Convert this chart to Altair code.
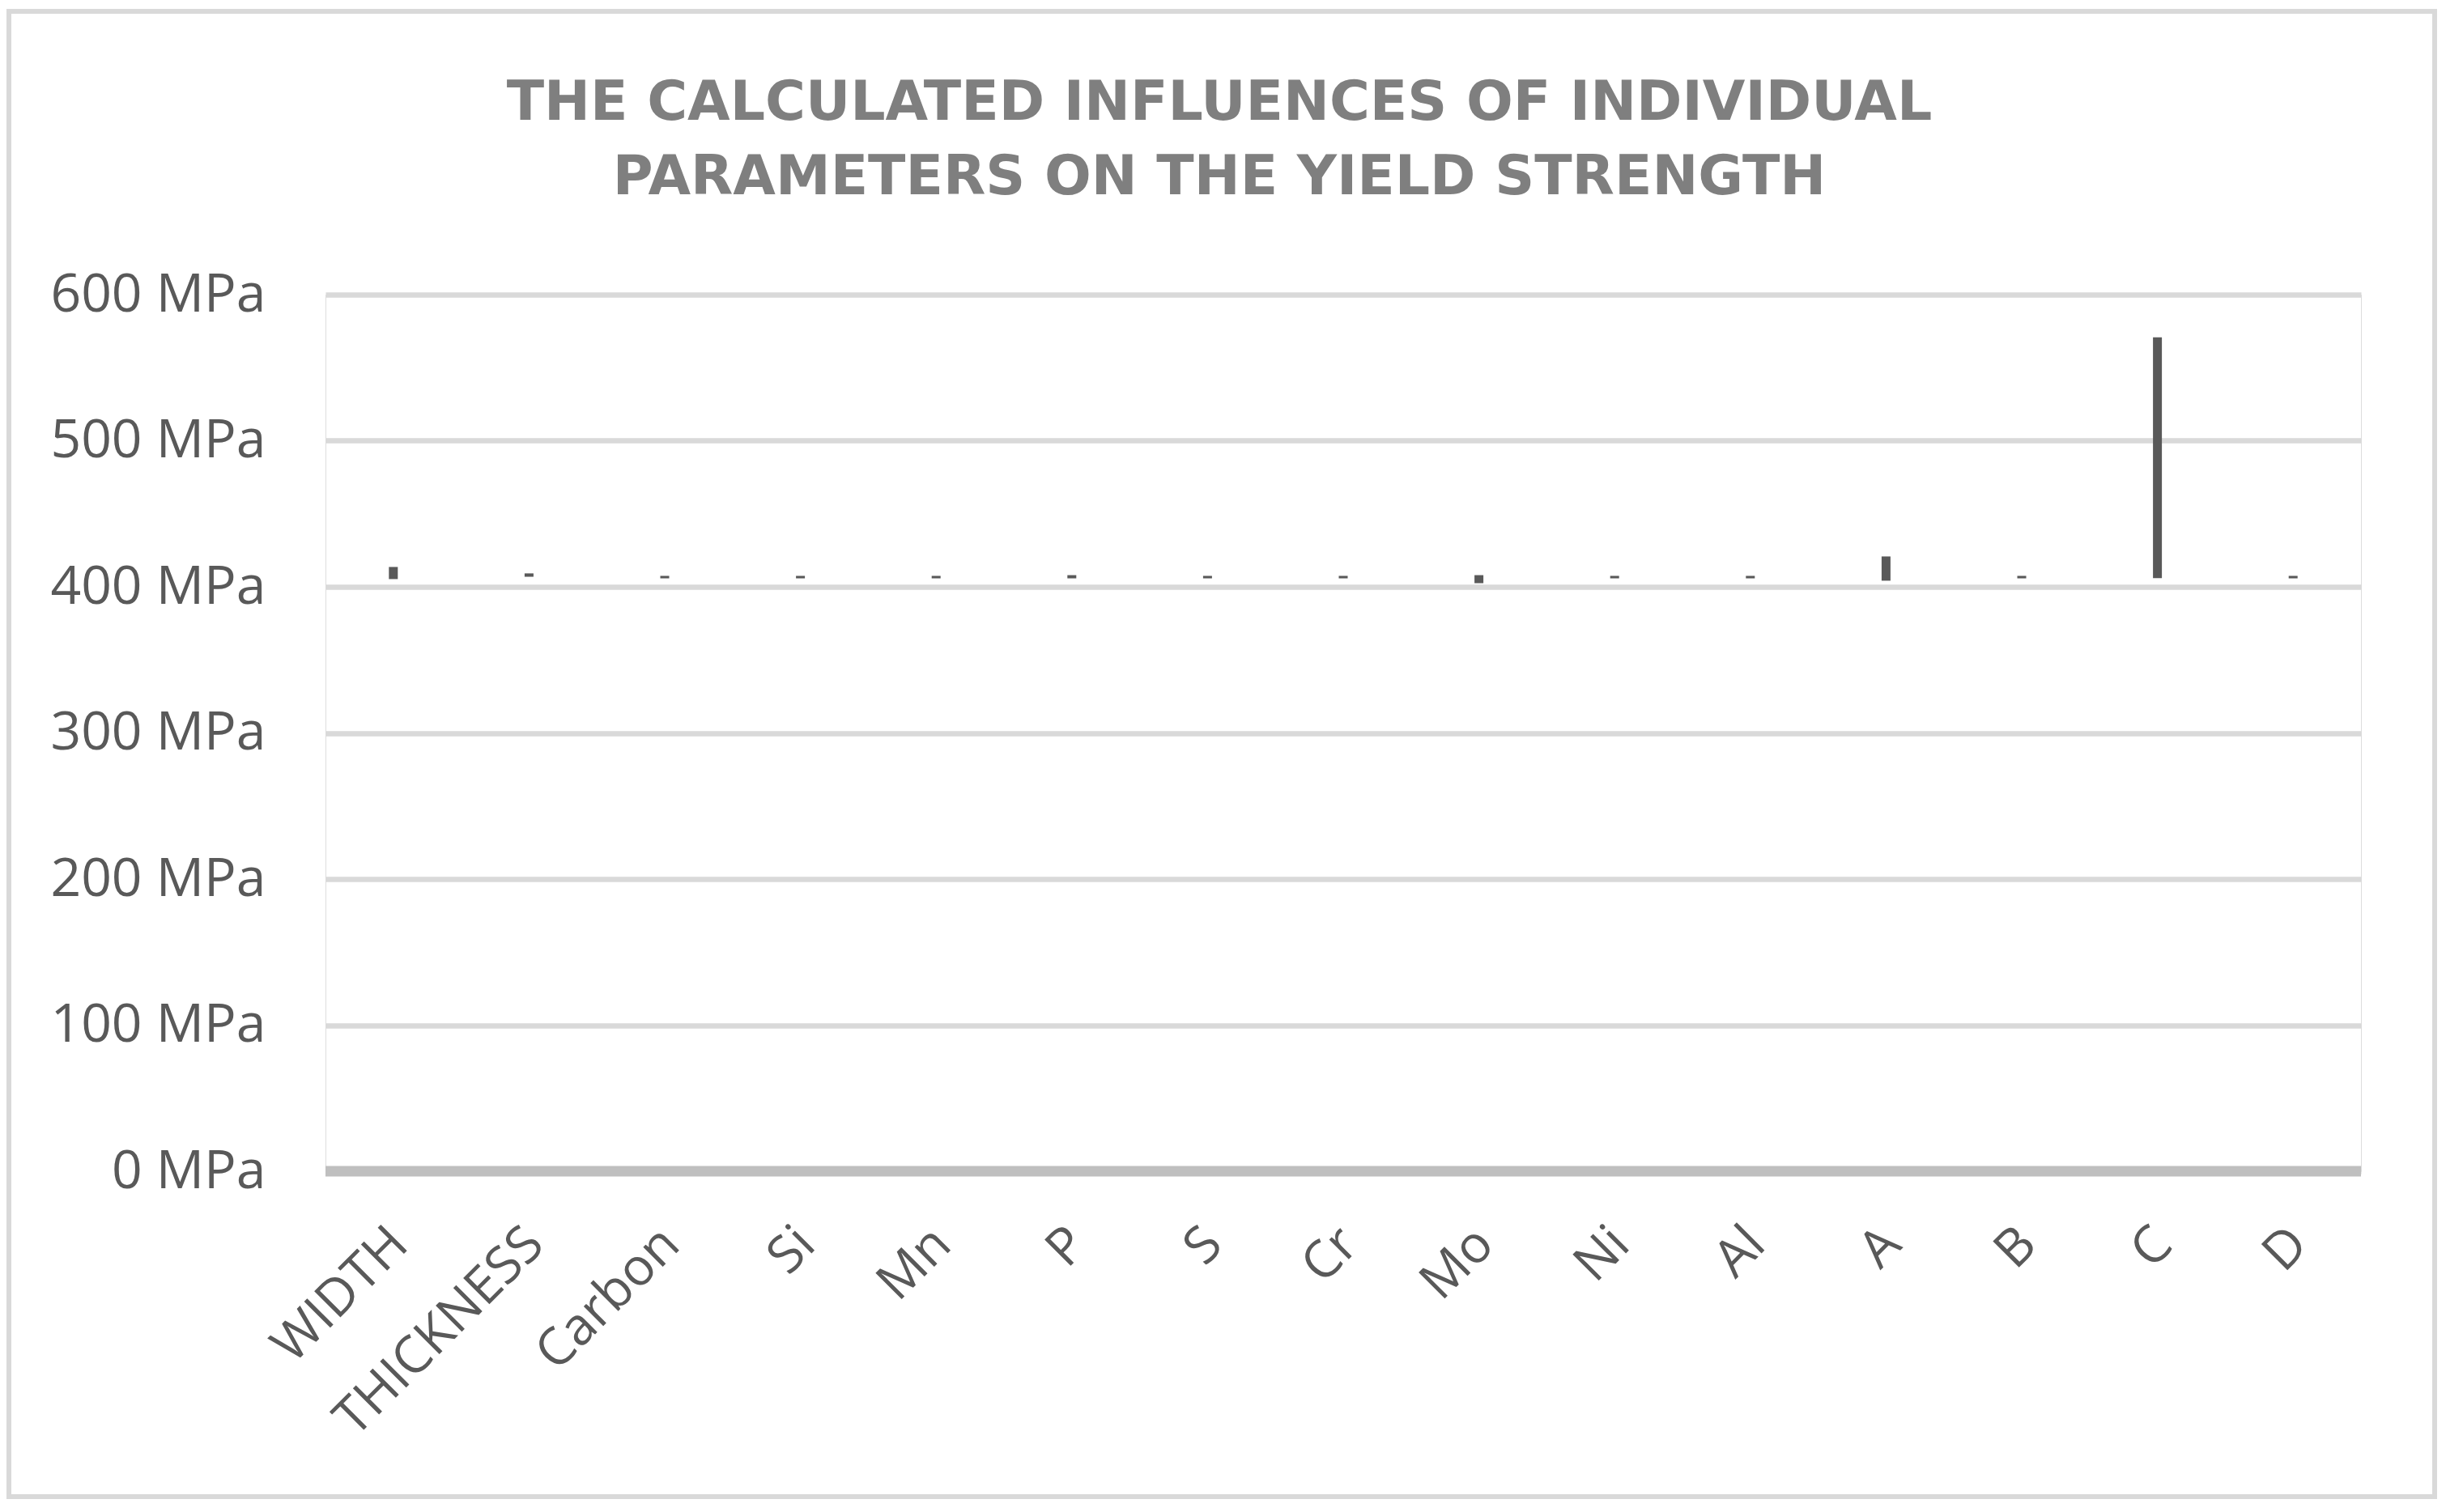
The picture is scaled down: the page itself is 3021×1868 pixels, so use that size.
import altair as alt
import pandas as pd

params = ["WIDTH", "THICKNESS", "Carbon", "Si", "Mn", "P", "S", "Cr", "Mo", "Ni", "Al", "A", "B", "C", "D"]
low_mpa = [405.3, 406.9, 405.8, 405.8, 405.8, 405.8, 405.8, 405.8, 402.5, 405.8, 405.8, 404.2, 405.8, 406.0, 405.8]
high_mpa = [413.6, 409.2, 407.5, 407.5, 407.5, 408.0, 407.5, 407.5, 408.0, 407.5, 407.5, 420.8, 407.5, 570.8, 407.5]
y_ticks = [0, 100, 200, 300, 400, 500, 600]
title_lines = ["THE CALCULATED INFLUENCES OF INDIVIDUAL", "PARAMETERS ON THE YIELD STRENGTH"]

df = pd.DataFrame({"param": params, "low": low_mpa, "high": high_mpa})
zero_df = pd.DataFrame({"y": [0]})
frame_df = pd.DataFrame({"frame": [1]})

W, H = 2514, 1083
LABEL = "#595959"
FRAME = "#d9d9d9"

x_enc = alt.X(
    "param:N",
    sort=params,
    title=None,
    scale=alt.Scale(paddingInner=0.2, paddingOuter=0.1),
    axis=alt.Axis(
        labelAngle=-45,
        labelAlign="right",
        labelBaseline="middle",
        labelFont="Open Sans",
        labelFontSize=64,
        labelColor=LABEL,
        labelPadding=80,
        labelOffset=8,
        labelLimit=2000,
        ticks=False,
        domain=False,
        grid=False,
    ),
)

y_scale = alt.Scale(domain=[0, 600], nice=False)

bars = alt.Chart(df).mark_bar(size=11, color="#595959").encode(
    x=x_enc,
    y=alt.Y(
        "low:Q",
        scale=y_scale,
        title=None,
        axis=alt.Axis(
            values=y_ticks,
            labelExpr="datum.value + ' MPa'",
            labelFont="Open Sans",
            labelFontSize=66,
            labelColor=LABEL,
            labelPadding=74,
            labelLimit=2000,
            ticks=False,
            domain=False,
            grid=True,
            gridColor="#d9d9d9",
            gridWidth=6.5,
        ),
    ),
    y2="high:Q",
)

zero_line = alt.Chart(zero_df).mark_rule(color="#bfbfbf", strokeWidth=13).encode(
    y=alt.Y("y:Q", scale=y_scale)
)

# outer chart border drawn as four rules
fx1, fx2, fy1, fy2 = -391, 2605, -350, 1485
frame_top = alt.Chart(frame_df).mark_rule(color=FRAME, strokeWidth=6).encode(
    x=alt.value(fx1 - 3), x2=alt.value(fx2 + 3), y=alt.value(fy1)
)
frame_bottom = alt.Chart(frame_df).mark_rule(color=FRAME, strokeWidth=6).encode(
    x=alt.value(fx1 - 3), x2=alt.value(fx2 + 3), y=alt.value(fy2)
)
frame_left = alt.Chart(frame_df).mark_rule(color=FRAME, strokeWidth=6).encode(
    x=alt.value(fx1), y=alt.value(fy1), y2=alt.value(fy2)
)
frame_right = alt.Chart(frame_df).mark_rule(color=FRAME, strokeWidth=6).encode(
    x=alt.value(fx2), y=alt.value(fy1), y2=alt.value(fy2)
)

title = alt.Chart(frame_df).mark_text(
    font="DejaVu Sans",
    fontSize=68,
    fontWeight="bold",
    color="#7f7f7f",
    lineHeight=92,
    align="center",
    baseline="alphabetic",
).encode(
    x=alt.value(1104), y=alt.value(-216), text=alt.value(title_lines)
)

chart = alt.layer(
    frame_top, frame_bottom, frame_left, frame_right, bars, zero_line, title
).properties(
    width=W,
    height=H,
    padding={"left": 394, "top": 356, "right": 96, "bottom": 407},
    autosize=alt.AutoSizeParams(type="none"),
).configure_view(stroke=None).configure_axis(domain=False).configure(background="white")

chart.save("out.html", embed_options={"renderer": "svg", "actions": False})
